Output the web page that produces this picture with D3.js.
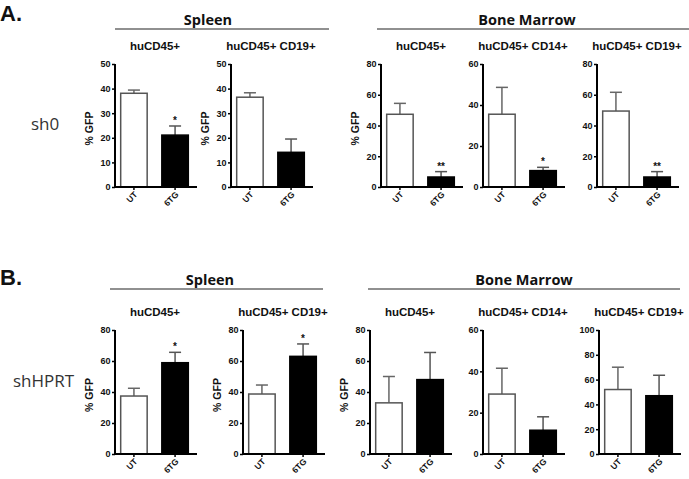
<!DOCTYPE html>
<html>
<head>
<meta charset="UTF-8">
<script src="https://cdn.jsdelivr.net/npm/d3@7"></script>
<style>
  body { margin: 0; background: #fff; }
  svg text { fill: #111; }
</style>
</head>
<body>
<svg id="fig" width="689" height="479"></svg>
<script>
// ---- data ----
const groups   = ["UT", "6TG"];
const titles   = ["huCD45+", "huCD45+ CD19+", "huCD45+", "huCD45+ CD14+", "huCD45+ CD19+"];

// panel A : sh0
const a_max    = [50, 50, 80, 60, 80];
const a_step   = [10, 10, 20, 20, 20];
const a_ut     = [38.1, 36.5, 47.3, 35.5, 49.4];
const a_utErr  = [1.3, 1.8, 7.1, 13.1, 12.2];
const a_tg     = [21.1, 14.1, 6.5, 8.0, 6.5];
const a_tgErr  = [3.7, 5.4, 3.5, 1.6, 3.5];
const a_sig    = ["*", "", "**", "*", "**"];

// panel B : shHPRT
const b_max    = [80, 80, 80, 60, 100];
const b_step   = [20, 20, 20, 20, 20];
const b_ut     = [37.4, 38.7, 33, 29, 52];
const b_utErr  = [5, 5.8, 17, 12.5, 18];
const b_tg     = [58.9, 63, 48, 11.5, 47];
const b_tgErr  = [6.7, 8, 17.5, 6.5, 16.5];
const b_sig    = ["*", "*", "", "", ""];

// ---- layout ----
const svg = d3.select("#fig");
const serif = "'Open Sans', sans-serif";
const arial = "'Liberation Sans', Arial, sans-serif";

const panels = [
  { letter: "A.", letterY: 21, row: "sh0", rowX: 31, rowY: 130,
    top: 64, bottom: 187, axes: [115, 231, 381, 483, 597],
    max: a_max, step: a_step, ut: a_ut, utErr: a_utErr, tg: a_tg, tgErr: a_tgErr, sig: a_sig,
    headY: 25, lineY: 29,
    heads: [{t: "Spleen", cx: 208, x0: 115, x1: 329}, {t: "Bone Marrow", cx: 527, x0: 377, x1: 689}] },
  { letter: "B.", letterY: 285, row: "shHPRT", rowX: 13, rowY: 387,
    top: 330, bottom: 454, axes: [115, 243, 370, 483, 599],
    max: b_max, step: b_step, ut: b_ut, utErr: b_utErr, tg: b_tg, tgErr: b_tgErr, sig: b_sig,
    headY: 285, lineY: 289,
    heads: [{t: "Spleen", cx: 210, x0: 110, x1: 323}, {t: "Bone Marrow", cx: 524, x0: 368, x1: 680}] }
];

panels.forEach(p => {
  svg.append("text").attr("x", 0).attr("y", p.letterY)
    .attr("font-family", arial).attr("font-weight", 700).attr("font-size", 22)
    .text(p.letter);
  svg.append("text").attr("x", p.rowX).attr("y", p.rowY)
    .attr("font-family", serif).attr("font-size", 17).style("fill", "#333")
    .text(p.row);

  p.heads.forEach(h => {
    svg.append("text").attr("x", h.cx).attr("y", p.headY).attr("text-anchor", "middle")
      .attr("font-family", serif).attr("font-weight", 700).attr("font-size", 14.5)
      .text(h.t);
    svg.append("line").attr("x1", h.x0).attr("x2", h.x1)
      .attr("y1", p.lineY).attr("y2", p.lineY)
      .attr("stroke", "#222").attr("stroke-width", 1.2);
  });

  p.axes.forEach((ax, i) => {
    const g = svg.append("g");
    const x = d3.scaleBand().domain(groups).range([ax, ax + 79])
      .paddingInner(0.32).paddingOuter(0.12);
    const y = d3.scaleLinear().domain([0, p.max[i]]).range([p.bottom, p.top]);

    // title
    g.append("text").attr("x", ax + 40).attr("y", p.top - 14).attr("text-anchor", "middle")
      .attr("font-family", arial).attr("font-weight", 700).attr("font-size", 11.5)
      .text(titles[i]);

    // bars
    const vals = [
      { k: "UT",  v: p.ut[i], e: p.utErr[i], fill: "#fff", stroke: "#555", ec: "#666" },
      { k: "6TG", v: p.tg[i], e: p.tgErr[i], fill: "#000", stroke: "#000", ec: "#555" }
    ];
    vals.forEach(d => {
      const cx = x(d.k) + x.bandwidth() / 2;
      g.append("line").attr("x1", cx).attr("x2", cx)
        .attr("y1", y(d.v)).attr("y2", y(d.v + d.e))
        .attr("stroke", d.ec).attr("stroke-width", 1.5);
      g.append("line").attr("x1", cx - 6).attr("x2", cx + 6)
        .attr("y1", y(d.v + d.e)).attr("y2", y(d.v + d.e))
        .attr("stroke", d.ec).attr("stroke-width", 1.5);
      g.append("rect").attr("x", x(d.k) + 0.75).attr("y", y(d.v))
        .attr("width", x.bandwidth() - 1.5).attr("height", p.bottom - y(d.v))
        .attr("fill", d.fill).attr("stroke", d.stroke).attr("stroke-width", 1.5);
    });
    if (p.sig[i]) {
      const d = vals[1];
      g.append("text").attr("x", x("6TG") + x.bandwidth() / 2).attr("y", y(d.v + d.e) - 2)
        .attr("text-anchor", "middle").attr("font-family", arial).attr("font-weight", 700)
        .attr("font-size", 10).text(p.sig[i]);
    }

    // y axis
    const yAxis = d3.axisLeft(y).tickValues(d3.range(0, p.max[i] + 0.1, p.step[i]))
      .tickSize(3).tickPadding(1.5);
    const ya = g.append("g").attr("transform", `translate(${ax},0)`).call(yAxis);
    ya.select(".domain").attr("stroke", "#000").attr("stroke-width", 2)
      .attr("d", `M0,${p.top}V${p.bottom + 1}`);
    ya.selectAll(".tick line").attr("stroke", "#000").attr("stroke-width", 1.5);
    ya.selectAll(".tick text").attr("font-family", arial).attr("font-weight", 700)
      .attr("font-size", 9).style("fill", "#111");

    // x axis
    const xAxis = d3.axisBottom(x).tickSize(3).tickPadding(2);
    const xa = g.append("g").attr("transform", `translate(0,${p.bottom})`).call(xAxis);
    xa.select(".domain").attr("stroke", "#000").attr("stroke-width", 2)
      .attr("d", `M${ax - 1},0H${ax + 82}`);
    xa.selectAll(".tick line").attr("stroke", "#000").attr("stroke-width", 1.5);
    xa.selectAll(".tick text").attr("font-family", arial).attr("font-weight", 700)
      .attr("font-size", 8.5).style("fill", "#111")
      .attr("text-anchor", "end").attr("dy", "0.35em")
      .attr("transform", "translate(2,6) rotate(-45)").attr("y", 0).attr("x", 0);

    // y label on the first three charts
    if (i < 3) {
      g.append("text")
        .attr("transform", `translate(${ax - 22},${(p.top + p.bottom) / 2 + 3}) rotate(-90)`)
        .attr("text-anchor", "middle").attr("font-family", arial).attr("font-weight", 700)
        .attr("font-size", 10.5).text("% GFP");
    }
  });
});
</script>
</body>
</html>
